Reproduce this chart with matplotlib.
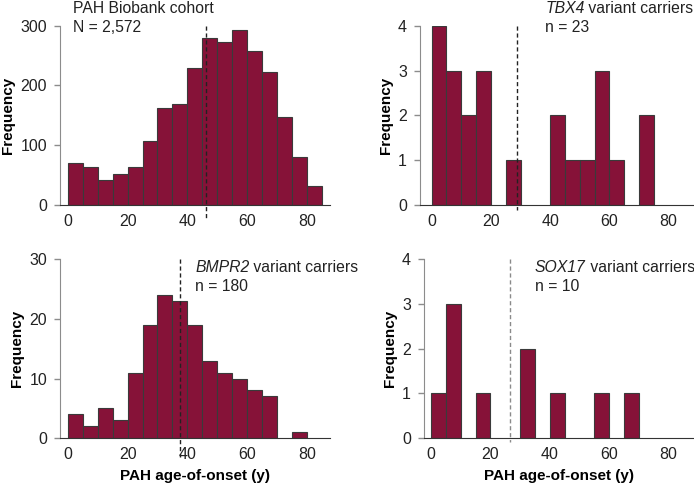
import numpy as np
import matplotlib
matplotlib.use("Agg")
import matplotlib.pyplot as plt

plt.rcParams["font.family"] = ["Liberation Sans", "DejaVu Sans"]

# histogram bins (age-of-onset, 5-year bins)
bin_edges = np.arange(0, 90, 5)

biobank_counts = [71, 63, 42, 52, 64, 107, 162, 169, 230, 280, 272, 293, 258, 223, 147, 80, 32]
tbx4_counts = [4, 3, 2, 3, 0, 1, 0, 0, 2, 1, 1, 3, 1, 0, 2, 0, 0]
bmpr2_counts = [4, 2, 5, 3, 11, 19, 24, 23, 19, 13, 11, 10, 8, 7, 0, 1, 0]
sox17_counts = [1, 3, 0, 1, 0, 0, 2, 0, 1, 0, 0, 1, 0, 1, 0, 0, 0]

medians = [46.2, 28.9, 37.6, 26.6]
genes = ["", "TBX4", "BMPR2", "SOX17"]
titles = ["PAH Biobank cohort", " variant carriers", " variant carriers", " variant carriers"]
subtitles = ["N = 2,572", "n = 23", "n = 180", "n = 10"]
yticks = [[0, 100, 200, 300], [0, 1, 2, 3, 4], [0, 10, 20, 30], [0, 1, 2, 3, 4]]
xticks = [0, 20, 40, 60, 80]

BAR_COLOR = "#861238"
EDGE_COLOR = "#3a3a3a"
TXT = "#222222"
FS = 11.3
W, H = 694, 483

# panel layout in pixels: left, right, top(y max), bottom(y=0)
PANELS = [
    (60, 330, 25.7, 205.0),
    (420, 694, 25.7, 205.0),
    (60, 330, 259.0, 438.3),
    (424, 694, 259.0, 438.3),
]
XLIMS = [(-2.6, 87.7), (-3.95, 88.6), (-2.6, 87.7), (-2.4, 88.6)]
TEXT_X = [1.8, 38.3, 42.6, 35.0]
TEXT_BASE = [(12.7, 32.3), (12.7, 32.3), (271.7, 291.0), (271.7, 291.0)]
DASH_BELOW = [15, 5, 18.4, 3.4]  # pixels below the x axis
DASH_COLOR = ["#222222", "#222222", "#222222", "#8a8a8a"]

fig = plt.figure(figsize=(W / 100, H / 100), dpi=100)

all_counts = [biobank_counts, tbx4_counts, bmpr2_counts, sox17_counts]

for i, counts in enumerate(all_counts):
    left, right, top, bottom = PANELS[i]
    ax = fig.add_axes([left / W, 1 - bottom / H, (right - left) / W, (bottom - top) / H])
    counts = np.array(counts)
    mask = counts > 0
    ax.bar(bin_edges[:-1][mask], counts[mask], width=5, align="edge",
           color=BAR_COLOR, edgecolor=EDGE_COLOR, linewidth=0.8, zorder=2)

    ymax = yticks[i][-1]
    ax.set_xlim(*XLIMS[i])
    ax.set_ylim(0, ymax)
    ax.set_xticks(xticks)
    ax.set_yticks(yticks[i])

    for s in ["top", "right"]:
        ax.spines[s].set_visible(False)
    ax.spines["left"].set_color("#8c8c8c")
    ax.spines["bottom"].set_color("#333333")
    ax.tick_params(axis="y", length=4.3, width=1.0, color="#8c8c8c", pad=5,
                   labelsize=11.5, labelcolor=TXT)
    ax.tick_params(axis="x", length=0, pad=6.5, labelsize=11.5, labelcolor=TXT)
    ax.set_ylabel("Frequency", fontsize=11, fontweight="bold", labelpad=4)
    if i >= 2:
        ax.set_xlabel("PAH age-of-onset (y)", fontsize=11, fontweight="bold", labelpad=5)

    # median line, running a little below the axis
    below = DASH_BELOW[i] / (bottom - top) * ymax
    ax.plot([medians[i], medians[i]], [ymax, -below], ls=(0, (3, 2)), lw=1.0,
            color=DASH_COLOR[i], clip_on=False, zorder=3)

    # panel labels: italic gene name followed by plain text
    b1, b2 = TEXT_BASE[i]
    trans = ax.get_xaxis_transform()
    y1 = (bottom - b1) / (bottom - top)
    if genes[i]:
        g = ax.text(TEXT_X[i], y1, genes[i], transform=trans, fontsize=FS,
                    style="italic", va="baseline", ha="left", color=TXT)
        ax.annotate(titles[i], xy=(1, 0), xycoords=g, fontsize=FS,
                    va="bottom", ha="left", color=TXT)
    else:
        ax.text(TEXT_X[i], y1, titles[i], transform=trans, fontsize=FS,
                va="baseline", ha="left", color=TXT)
    ax.text(TEXT_X[i], (bottom - b2) / (bottom - top), subtitles[i], transform=trans,
            fontsize=FS, va="baseline", ha="left", color=TXT)

fig.savefig("out.png", dpi=100)
